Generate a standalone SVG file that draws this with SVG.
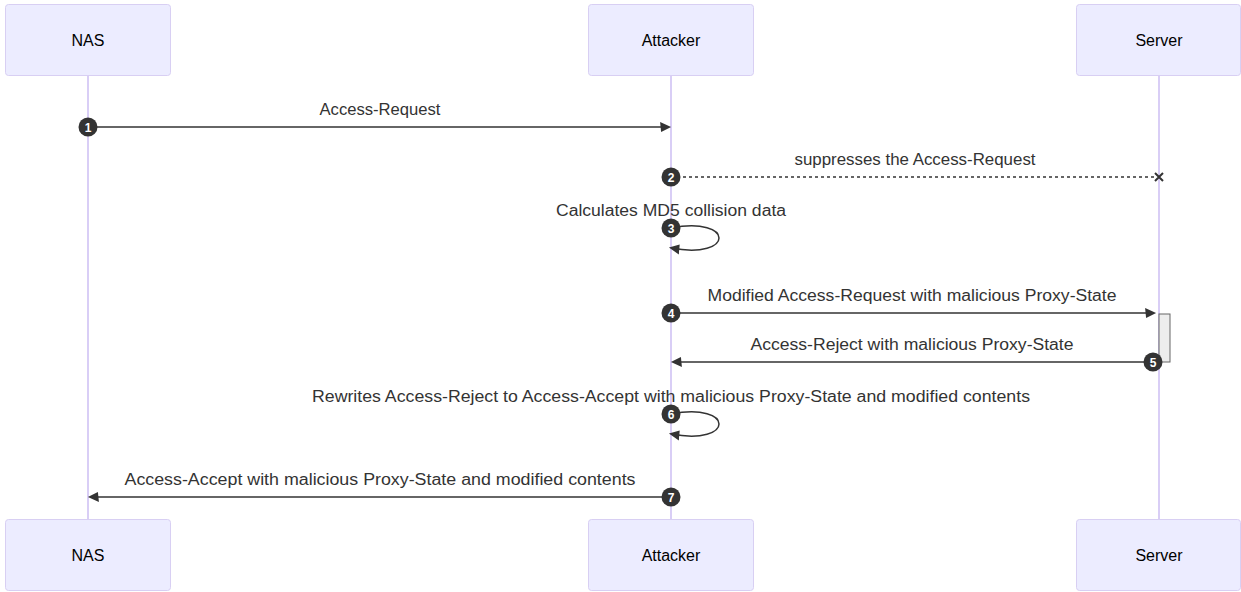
<svg xmlns="http://www.w3.org/2000/svg" width="1241" height="592" viewBox="0 0 1241 592">
<style>
.actor{fill:#ECECFF;stroke:#D8CFF3;stroke-width:1}
.atext{font-family:"Liberation Sans",Arial,sans-serif;font-size:16px;fill:#000;text-anchor:middle}
.life{stroke:#D9CEF6;stroke-width:2}
.msg{stroke:#333;stroke-width:1.5;fill:none}
.dot{stroke-dasharray:3,3}
.mtext{font-family:"Liberation Sans",Arial,sans-serif;font-size:16px;fill:#333;text-anchor:middle}
.seq{fill:#333}
.seqt{font-family:"Liberation Sans",Arial,sans-serif;font-size:12px;fill:#fff;text-anchor:middle;font-weight:bold}
</style>
<defs>
<marker id="arrow" markerUnits="userSpaceOnUse" markerWidth="12" markerHeight="12" refX="7.9" refY="5" orient="auto" viewBox="-1 0 12 10">
<path d="M -1 0 L 10 5 L 0 10 z" fill="#333"/>
</marker>
</defs>
<g id="lifelines">
<line class="life" x1="88" y1="76" x2="88" y2="519"/>
<line class="life" x1="671" y1="76" x2="671" y2="519"/>
<line class="life" x1="1159" y1="76" x2="1159" y2="519"/>
</g>
<g id="actor-nas-top"><rect class="actor" x="5.5" y="4.5" width="165" height="71" rx="3"/><text class="atext" x="88" y="46">NAS</text></g>
<g id="actor-attacker-top"><rect class="actor" x="588.5" y="4.5" width="165" height="71" rx="3"/><text class="atext" x="671" y="46">Attacker</text></g>
<g id="actor-server-top"><rect class="actor" x="1076.5" y="4.5" width="164" height="71" rx="3"/><text class="atext" x="1159" y="46">Server</text></g>
<g id="actor-nas-bottom"><rect class="actor" x="5.5" y="519.5" width="165" height="71" rx="3"/><text class="atext" x="88" y="561">NAS</text></g>
<g id="actor-attacker-bottom"><rect class="actor" x="588.5" y="519.5" width="165" height="71" rx="3"/><text class="atext" x="671" y="561">Attacker</text></g>
<g id="actor-server-bottom"><rect class="actor" x="1076.5" y="519.5" width="164" height="71" rx="3"/><text class="atext" x="1159" y="561">Server</text></g>
<g id="activation"><rect x="1159" y="314" width="11" height="48" fill="#EDEDED" stroke="#666" stroke-width="1"/></g>
<g id="connectors">
<line class="msg" x1="88" y1="127" x2="669" y2="127" marker-end="url(#arrow)"/>
<line class="msg dot" x1="671" y1="177" x2="1155" y2="177"/>
<path d="M 1155,173 L 1163,181 M 1163,173 L 1155,181" stroke="#333" stroke-width="2" fill="none"/>
<path class="msg" d="M 671,228 C 735,216 735,260 671,248" marker-end="url(#arrow)"/>
<line class="msg" x1="671" y1="313" x2="1154" y2="313" marker-end="url(#arrow)"/>
<line class="msg" x1="1153" y1="362" x2="673" y2="362" marker-end="url(#arrow)"/>
<path class="msg" d="M 671,414 C 735,402 735,446 671,434" marker-end="url(#arrow)"/>
<line class="msg" x1="671" y1="497" x2="90" y2="497" marker-end="url(#arrow)"/>
</g>
<g id="labels">
<text class="mtext" x="380" y="115" textLength="121" lengthAdjust="spacingAndGlyphs">Access-Request</text>
<text class="mtext" x="915" y="165" textLength="241" lengthAdjust="spacingAndGlyphs">suppresses the Access-Request</text>
<text class="mtext" x="671" y="216" textLength="230" lengthAdjust="spacingAndGlyphs">Calculates MD5 collision data</text>
<text class="mtext" x="912" y="301" textLength="409" lengthAdjust="spacingAndGlyphs">Modified Access-Request with malicious Proxy-State</text>
<text class="mtext" x="912" y="350" textLength="323" lengthAdjust="spacingAndGlyphs">Access-Reject with malicious Proxy-State</text>
<text class="mtext" x="671" y="402" textLength="718" lengthAdjust="spacingAndGlyphs">Rewrites Access-Reject to Access-Accept with malicious Proxy-State and modified contents</text>
<text class="mtext" x="380" y="485" textLength="511" lengthAdjust="spacingAndGlyphs">Access-Accept with malicious Proxy-State and modified contents</text>
</g>
<g id="sequence-numbers">
<circle class="seq" cx="88" cy="127" r="9.5"/><text class="seqt" x="88" y="131.5">1</text>
<circle class="seq" cx="671" cy="177" r="9.5"/><text class="seqt" x="671" y="181.5">2</text>
<circle class="seq" cx="671" cy="228" r="9.5"/><text class="seqt" x="671" y="232.5">3</text>
<circle class="seq" cx="671" cy="313" r="9.5"/><text class="seqt" x="671" y="317.5">4</text>
<circle class="seq" cx="1153" cy="362" r="9.5"/><text class="seqt" x="1153" y="366.5">5</text>
<circle class="seq" cx="671" cy="414" r="9.5"/><text class="seqt" x="671" y="418.5">6</text>
<circle class="seq" cx="671" cy="497" r="9.5"/><text class="seqt" x="671" y="501.5">7</text>
</g>
</svg>
